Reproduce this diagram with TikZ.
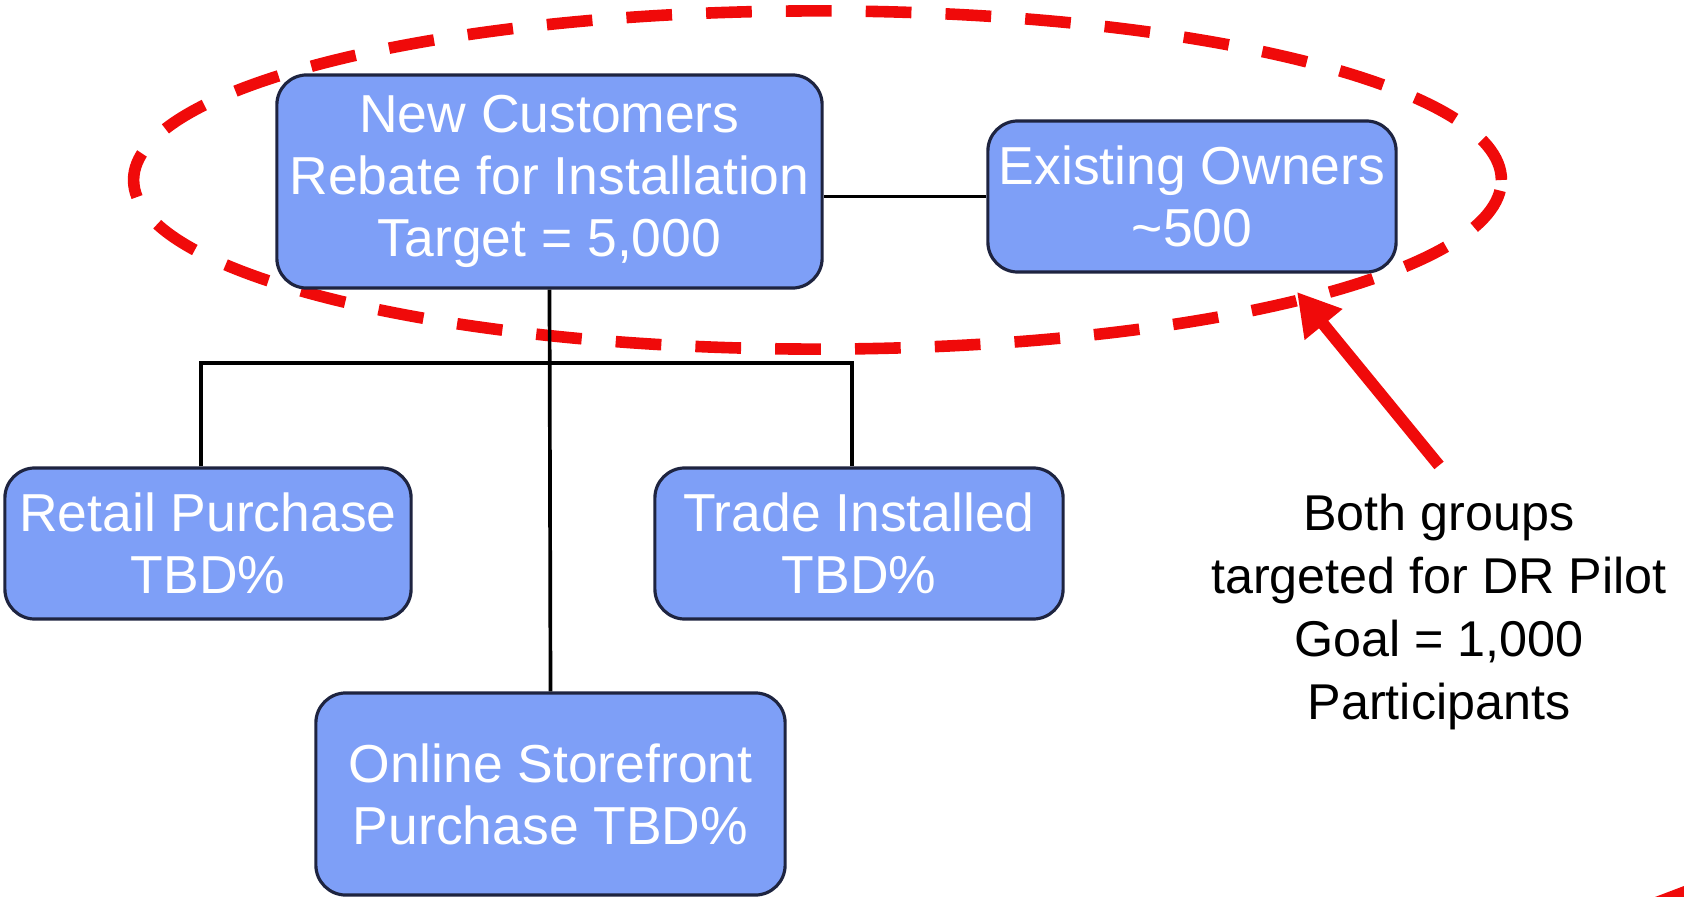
\documentclass[tikz,border=0pt]{standalone}
\usepackage{fontspec}
\setmainfont{Liberation Sans}
\usetikzlibrary{arrows.meta,calc}
\definecolor{boxblue}{RGB}{126,159,247}
\definecolor{boxline}{RGB}{30,36,64}
\definecolor{alertred}{RGB}{240,10,10}
\tikzset{
  tile/.style={draw=boxline, line width=0.9pt, fill=boxblue, rounded corners=0.3cm,
    text=white, align=center, inner sep=0pt,
    font=\fontsize{15.2pt}{17.6pt}\selectfont},
  link/.style={draw=black, line width=1.05pt},
  ring/.style={draw=alertred, line width=3.3pt, dash pattern=on 13pt off 9.7pt},
  pointer/.style={draw=alertred, line width=3.4pt,
    -{Triangle[length=0.42cm,width=0.46cm]}},
  note/.style={align=center, inner sep=0pt, text=black,
    font=\fontsize{14.3pt}{17.9pt}\selectfont}
}
\begin{document}
\begin{tikzpicture}[x=0.01cm,y=-0.01cm]
\useasboundingbox (0,0) rectangle (1684,897);

% dashed grouping ring behind the top row
\draw[ring] (817.5,180) ellipse [x radius=6.835cm, y radius=1.69cm];

% boxes
\node[tile, minimum width=5.45cm, minimum height=2.13cm] (nc) at (549.5,181.5)
  {New Customers\\Rebate for Installation\\Target = 5,000};
\node[tile, minimum width=4.08cm, minimum height=1.51cm] (eo) at (1192,196.5)
  {Existing Owners\\\textasciitilde500};
\node[tile, minimum width=4.06cm, minimum height=1.51cm] (rp) at (208,543.5)
  {Retail Purchase\\TBD\%};
\node[tile, minimum width=4.08cm, minimum height=1.51cm] (tr) at (859,543.5)
  {Trade Installed\\TBD\%};
\node[tile, minimum width=4.69cm, minimum height=2.02cm] (os) at (550.5,794)
  {Online Storefront\\Purchase TBD\%};

% callout text
\node[note] (txt) at (1439,612)
  {Both groups\\targeted for DR Pilot\\Goal = 1,000\\Participants};

% tree connectors
\coordinate (bar) at (549.5,363);
\coordinate (tip) at (1297,292);
\draw[link] (eo.west) -- (eo.west -| nc.east);
\draw[link] (nc.south) -- (os.north);
\draw[link] ([xshift=-0.07cm]rp.north) |- (bar) -| ([xshift=-0.07cm]tr.north);

% arrow from the note to the ring
\draw[pointer] ([yshift=0.28cm]txt.north) -- (tip);

% red sliver at the lower right edge
\fill[alertred] (1655,897) -- (1684,886) -- (1684,897) -- cycle;
\end{tikzpicture}
\end{document}
